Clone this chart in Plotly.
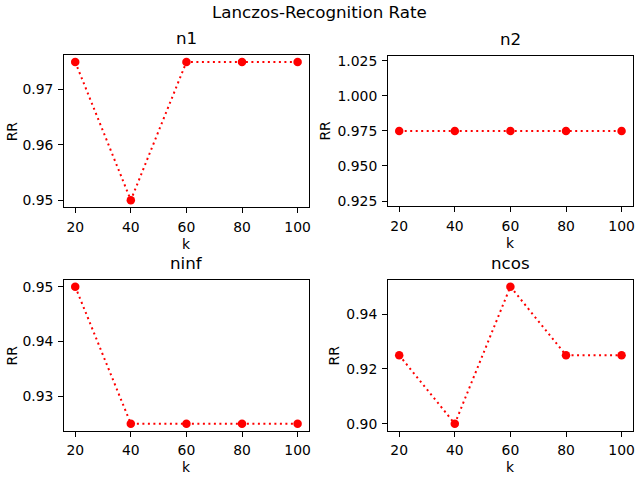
import plotly.graph_objects as go

k = [20, 40, 60, 80, 100]
rr_n1 = [0.975, 0.95, 0.975, 0.975, 0.975]
rr_n2 = [0.975, 0.975, 0.975, 0.975, 0.975]
rr_ninf = [0.95, 0.925, 0.925, 0.925, 0.925]
rr_ncos = [0.925, 0.90, 0.95, 0.925, 0.925]
titles = ["n1", "n2", "ninf", "ncos"]
suptitle = "Lanczos-Recognition Rate"

W, H = 640, 480
FONT = "DejaVu Sans"
fs = 13.9

# axes boxes in pixels (left, right, top, bottom)
boxes = [
    (64.3, 309.7, 52.7, 206.7),
    (389.3, 634.7, 53.3, 205.7),
    (64.3, 309.7, 280.3, 433.0),
    (389.3, 634.7, 280.3, 433.0),
]
ylabel_off = [52, 63.6, 52, 54]
yranges = [
    [0.94875, 0.97625],
    [0.921375, 1.028625],
    [0.92375, 0.95125],
    [0.8975, 0.9525],
]
yticks = [
    dict(tick0=0.95, dtick=0.01, tickformat=".2f"),
    dict(tick0=0.925, dtick=0.025, tickformat=".3f"),
    dict(tick0=0.93, dtick=0.01, tickformat=".2f"),
    dict(tick0=0.90, dtick=0.02, tickformat=".2f"),
]
series = [rr_n1, rr_n2, rr_ninf, rr_ncos]

fig = go.Figure()
annotations = []
for i, (ys, (l, r, t, b)) in enumerate(zip(series, boxes)):
    n = "" if i == 0 else str(i + 1)
    fig.add_trace(go.Scatter(
        x=k, y=ys, mode="lines+markers",
        line=dict(color="red", dash="2px,3.5px", width=2),
        marker=dict(color="red", size=8.5),
        xaxis="x" + n, yaxis="y" + n, showlegend=False,
    ))
    common = dict(showline=True, mirror=True, linecolor="black", linewidth=1,
                  ticks="outside", ticklen=5, tickwidth=1, tickcolor="black",
                  showgrid=False, zeroline=False,
                  tickfont=dict(family=FONT, size=fs, color="black"))
    fig.layout["xaxis" + n] = dict(
        domain=[l / W, r / W], anchor="y" + n, range=[16, 104],
        tickmode="array", tickvals=k, ticktext=[str(v) for v in k],
        ticklabelstandoff=2, **common)
    fig.layout["yaxis" + n] = dict(
        domain=[1 - b / H, 1 - t / H], anchor="x" + n, range=yranges[i],
        tickmode="linear", ticklabelstandoff=2, **yticks[i], **common)
    cx = (l + r) / 2 / W
    annotations.append(dict(text=titles[i], x=cx, y=1 - (t - 17) / H,
                            xref="paper", yref="paper", showarrow=False,
                            xanchor="center", yanchor="middle",
                            font=dict(family=FONT, size=16.7, color="black")))
    annotations.append(dict(text="k", x=cx, y=1 - (b + 37) / H,
                            xref="paper", yref="paper", showarrow=False,
                            xanchor="center", yanchor="middle",
                            font=dict(family=FONT, size=fs, color="black")))
    annotations.append(dict(text="RR", x=(l - ylabel_off[i]) / W, y=1 - (t + b) / 2 / H,
                            xref="paper", yref="paper", showarrow=False,
                            xanchor="center", yanchor="middle", textangle=-90,
                            font=dict(family=FONT, size=fs, color="black")))

annotations.append(dict(text=suptitle, x=0.5, y=1 - 9 / H, xref="paper", yref="paper",
                        showarrow=False, xanchor="center", yanchor="middle",
                        font=dict(family=FONT, size=16.7, color="black")))

fig.update_layout(width=W, height=H, margin=dict(l=0, r=0, t=0, b=0),
                  paper_bgcolor="white", plot_bgcolor="white",
                  annotations=annotations, font=dict(family=FONT))
fig.write_html("out.html", config={"displayModeBar": False},
               post_script="document.body.style.margin='0';document.body.style.overflow='hidden';")
